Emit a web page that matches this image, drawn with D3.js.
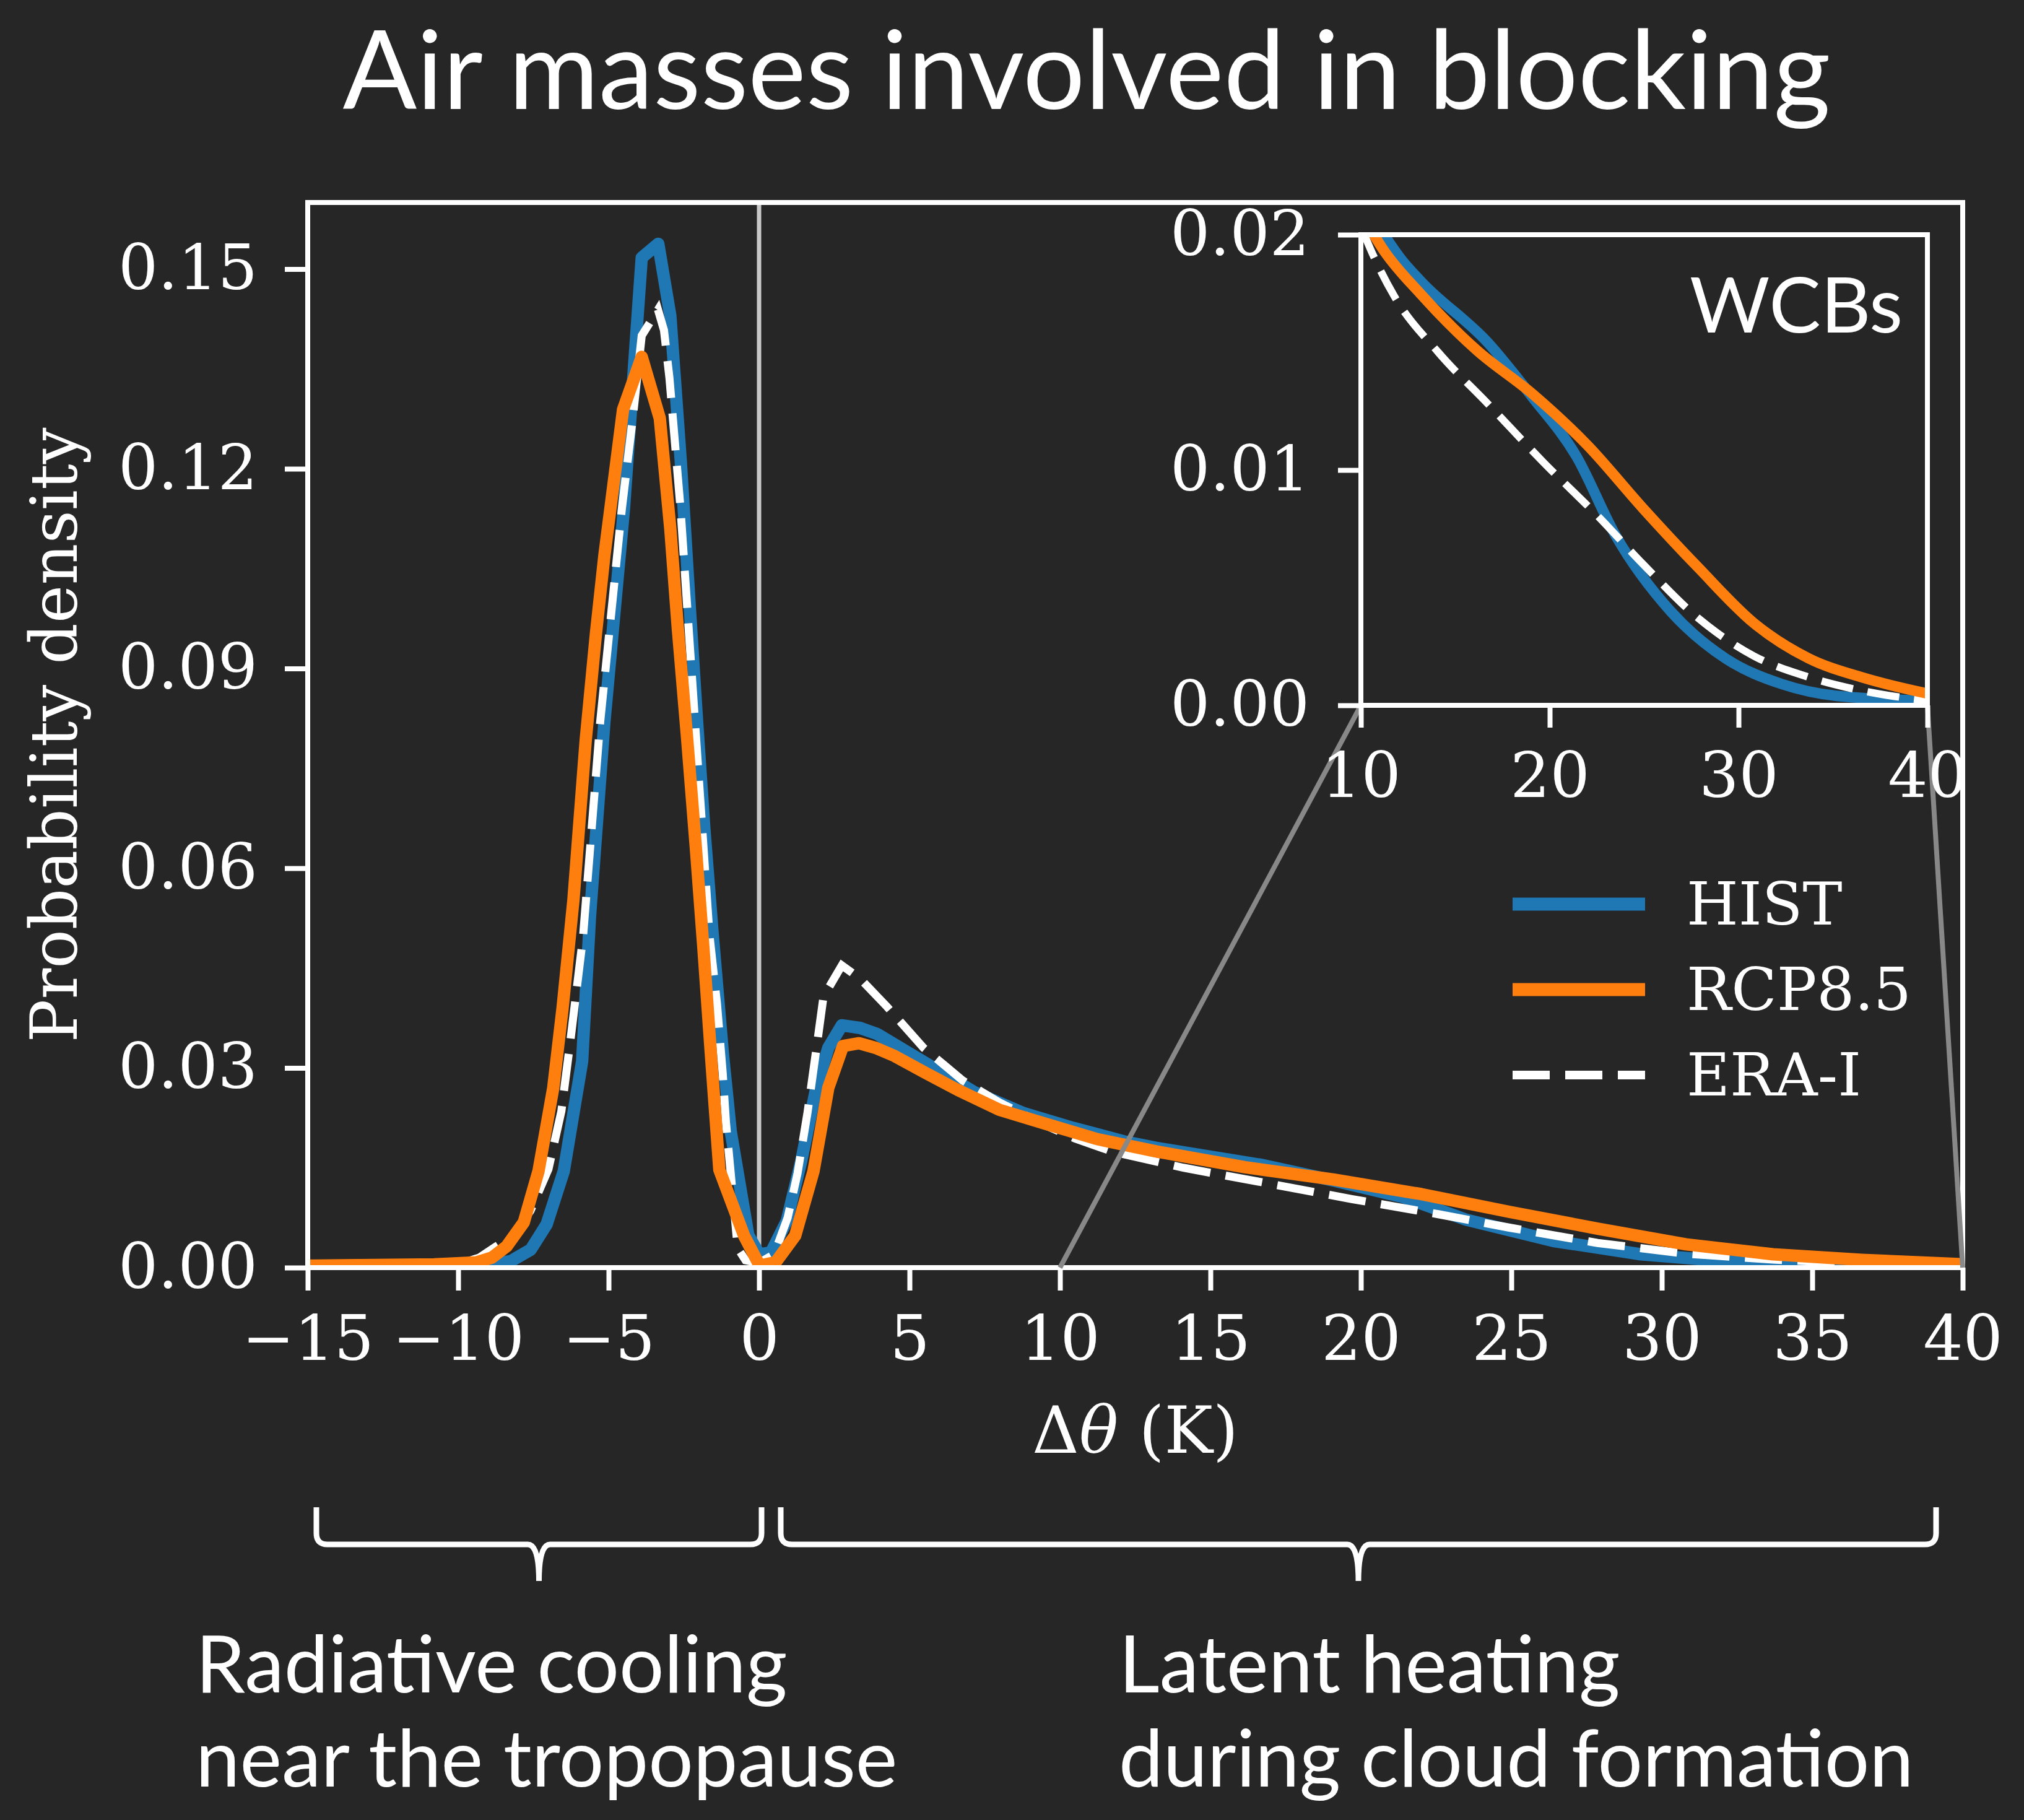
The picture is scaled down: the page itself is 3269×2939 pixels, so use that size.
<!DOCTYPE html>
<html>
<head>
<meta charset="utf-8">
<script src="https://cdn.jsdelivr.net/npm/d3@7"></script>
<style>
  body { margin: 0; background: #262626; }
  .tick text { font-family: "DejaVu Serif", serif; fill: #fff; }
  .tick line { stroke: #fff; }
</style>
</head>
<body>
<div id="chart"></div>
<script>
// values (theta in K, density)
var histX = [-15, -10, -9, -8.24, -7.59, -7.06, -6.49, -5.88, -5.62, -5.14, -4.49, -3.9, -3.35, -2.95, -2.6, -2.3, -2.06, -1.82, -1.54, -1.2, -0.94, -0.36, 0, 0.4, 0.92, 1.4, 1.9, 2.3, 2.75, 3.36, 3.92, 5.55, 7.18, 8.8, 10.43, 12.19, 13.2, 16.74, 19.08, 21.4, 23.5, 26.4, 29.3, 32.3, 35.2, 40];
var histY = [0.0002, 0.0002, 0.0004, 0.001, 0.0027, 0.0065, 0.0145, 0.031, 0.0527, 0.082, 0.114, 0.1517, 0.1538, 0.143, 0.121, 0.099, 0.082, 0.066, 0.050, 0.032, 0.0204, 0.0049, 0.002, 0.0023, 0.007, 0.016, 0.027, 0.033, 0.0364, 0.036, 0.0351, 0.0307, 0.0263, 0.0232, 0.0210, 0.0189, 0.0180, 0.0154, 0.0131, 0.0106, 0.0072, 0.0040, 0.0020, 0.0009, 0.0004, 0.0002];

var rcpX = [-15, -10.8, -9.38, -8.88, -8.39, -7.82, -7.33, -6.84, -6.53, -6.17, -5.76, -5.42, -5.14, -4.52, -3.9, -3.3, -2.95, -2.7, -2.4, -2.1, -1.85, -1.6, -1.32, -0.49, 0.02, 0.55, 1.2, 1.81, 2.3, 2.79, 3.32, 3.88, 4.5, 5.55, 6.6, 7.99, 9.6, 11.24, 13.2, 16.15, 19.08, 22.0, 24.94, 27.87, 30.8, 33.7, 36.66, 40];
var rcpY = [0.0003, 0.0005, 0.0008, 0.0015, 0.0032, 0.0068, 0.0145, 0.027, 0.039, 0.0552, 0.0793, 0.0953, 0.107, 0.1289, 0.1368, 0.1276, 0.111, 0.096, 0.080, 0.063, 0.048, 0.032, 0.0147, 0.0047, 0.0003, 0.0008, 0.0048, 0.0145, 0.027, 0.0333, 0.0337, 0.033, 0.0318, 0.0292, 0.0267, 0.0237, 0.0215, 0.0193, 0.01745, 0.01508, 0.01324, 0.01105, 0.00837, 0.00585, 0.0035, 0.0020, 0.00116, 0.0005];

var eraX = [-15, -10, -9.3, -8.8, -8.2, -7.6, -7.0, -6.57, -6.27, -5.85, -5.28, -4.56, -4.2, -3.9, -3.36, -3.16, -2.98, -2.61, -2.37, -2.13, -1.89, -1.65, -1.4, -1.21, -1.1, -0.71, -0.45, 0, 0.5, 0.95, 1.28, 1.61, 1.93, 2.14, 2.75, 3.36, 4.25, 5.47, 6.77, 7.99, 9.6, 10.5, 11.76, 14.1, 16.74, 19.7, 22.6, 24.94, 27.87, 30.8, 33.7, 36.66, 40];
var eraY = [0.0002, 0.0005, 0.0015, 0.003, 0.0048, 0.0085, 0.0148, 0.0235, 0.0341, 0.0497, 0.082, 0.114, 0.1275, 0.140, 0.1439, 0.1408, 0.1337, 0.114, 0.098, 0.082, 0.066, 0.050, 0.0397, 0.0293, 0.0218, 0.0029, 0.0011, 0.0007, 0.002, 0.0075, 0.0142, 0.0233, 0.0337, 0.0407, 0.0454, 0.0434, 0.0392, 0.033, 0.0281, 0.0248, 0.0212, 0.0194, 0.0174, 0.0150, 0.0128, 0.0103, 0.0080, 0.0060, 0.0037, 0.0021, 0.0012, 0.0006, 0.0002];

var xTicks = [-15, -10, -5, 0, 5, 10, 15, 20, 25, 30, 35, 40];
var xTickLabels = ["\u221215", "\u221210", "\u22125", "0", "5", "10", "15", "20", "25", "30", "35", "40"];
var yTicks = [0, 0.03, 0.06, 0.09, 0.12, 0.15];
var yTickLabels = ["0.00", "0.03", "0.06", "0.09", "0.12", "0.15"];
var insetXTicks = [10, 20, 30, 40];
var insetYTicks = [0, 0.01, 0.02];
var insetYTickLabels = ["0.00", "0.01", "0.02"];

var seriesNames = ["HIST", "RCP8.5", "ERA-I"];

var W = 3269, H = 2939;
var bg = "#262626";
var blue = "#1f77b4", orange = "#ff7f0e";
var serif = "DejaVu Serif", sans = "Lato";

var svg = d3.select("#chart")
            .append("svg")
            .attr("width", W)
            .attr("height", H);

svg.append("rect")
   .attr("width", W)
   .attr("height", H)
   .attr("fill", bg);

// main axes box
var box = {left: 497, right: 3170, top: 327, bottom: 2047};

var x = d3.scaleLinear()
          .domain([-15, 40])
          .range([box.left, box.right]);
var y = d3.scaleLinear()
          .domain([0, 0.16])
          .range([box.bottom, box.top]);

var defs = svg.append("defs");
defs.append("clipPath").attr("id", "clipMain")
    .append("rect")
    .attr("x", box.left).attr("y", box.top)
    .attr("width", box.right - box.left).attr("height", box.bottom - box.top);

var main = svg.append("g");
var plot = main.append("g").attr("clip-path", "url(#clipMain)");

// vertical line at zero
plot.append("line")
    .attr("x1", x(0)).attr("x2", x(0))
    .attr("y1", box.top).attr("y2", box.bottom)
    .attr("stroke", "#c8c8c8")
    .attr("stroke-width", 7);

function drawCurves(g, xs, ys, lw, dlw, dash, curve) {
  var line = d3.line()
               .curve(curve)
               .x(function(d) { return xs(d[0]); })
               .y(function(d) { return ys(d[1]); });
  g.append("path")
   .datum(d3.zip(histX, histY))
   .attr("d", line)
   .attr("fill", "none")
   .attr("stroke", blue)
   .attr("stroke-width", lw)
   .attr("stroke-linejoin", "round");
  g.append("path")
   .datum(d3.zip(eraX, eraY))
   .attr("d", line)
   .attr("fill", "none")
   .attr("stroke", "#fff")
   .attr("stroke-width", dlw)
   .attr("stroke-dasharray", dash);
  g.append("path")
   .datum(d3.zip(rcpX, rcpY))
   .attr("d", line)
   .attr("fill", "none")
   .attr("stroke", orange)
   .attr("stroke-width", lw)
   .attr("stroke-linejoin", "round");
}

drawCurves(plot, x, y, 20, 13, "60,25", d3.curveLinear);

// spines
main.append("rect")
    .attr("x", box.left).attr("y", box.top)
    .attr("width", box.right - box.left).attr("height", box.bottom - box.top)
    .attr("fill", "none")
    .attr("stroke", "#fff")
    .attr("stroke-width", 8);

var xAxis = d3.axisBottom(x)
              .tickValues(xTicks)
              .tickFormat(function(d, i) { return xTickLabels[i]; })
              .tickSize(37)
              .tickPadding(40);
var yAxis = d3.axisLeft(y)
              .tickValues(yTicks)
              .tickFormat(function(d, i) { return yTickLabels[i]; })
              .tickSize(37)
              .tickPadding(44);

main.append("g")
    .attr("transform", "translate(0," + box.bottom + ")")
    .call(xAxis)
    .call(function(g) { g.select(".domain").remove(); });
main.append("g")
    .attr("transform", "translate(" + box.left + ",0)")
    .call(yAxis)
    .call(function(g) { g.select(".domain").remove(); });

main.selectAll(".tick line").attr("stroke-width", 8);
main.selectAll(".tick text").style("font-size", "101px");

main.append("text")
    .attr("transform", "translate(88," + (box.top + box.bottom) / 2 + ") rotate(-90)")
    .attr("text-anchor", "middle")
    .attr("dominant-baseline", "central")
    .style("font-family", serif)
    .style("font-size", "104px")
    .attr("fill", "#fff")
    .text("Probability density");

var xlab = main.append("text")
               .attr("x", (box.left + box.right) / 2)
               .attr("y", 2346)
               .attr("text-anchor", "middle")
               .style("font-family", serif)
               .style("font-size", "105px")
               .attr("fill", "#fff");
xlab.append("tspan").text("\u0394");
xlab.append("tspan").style("font-style", "italic").text("\u03b8");
xlab.append("tspan").text(" (K)");

// inset
var ibox = {left: 2198, right: 3113, top: 379, bottom: 1139};
var xi = d3.scaleLinear()
           .domain([10, 40])
           .range([ibox.left, ibox.right]);
var yi = d3.scaleLinear()
           .domain([0, 0.02])
           .range([ibox.bottom, ibox.top]);

// connector lines from the zoomed region to the inset corners
main.append("line")
    .attr("x1", x(10)).attr("y1", y(0))
    .attr("x2", ibox.left).attr("y2", ibox.bottom)
    .attr("stroke", "#888").attr("stroke-width", 8);
main.append("line")
    .attr("x1", x(40)).attr("y1", y(0))
    .attr("x2", ibox.right).attr("y2", ibox.bottom)
    .attr("stroke", "#888").attr("stroke-width", 8);

// legend
var legY = [1460, 1598, 1736];
var legend = main.append("g");
var legStyles = [{c: blue, w: 21, dash: null}, {c: orange, w: 21, dash: null}, {c: "#fff", w: 14, dash: "60,25"}];
seriesNames.forEach(function(name, i) {
  legend.append("line")
        .attr("x1", 2443).attr("x2", 2657)
        .attr("y1", legY[i]).attr("y2", legY[i])
        .attr("stroke", legStyles[i].c)
        .attr("stroke-width", legStyles[i].w)
        .attr("stroke-dasharray", legStyles[i].dash);
  legend.append("text")
        .attr("x", 2724).attr("y", legY[i])
        .attr("dominant-baseline", "central")
        .style("font-family", serif)
        .style("font-size", "96px")
        .attr("fill", "#fff")
        .text(name);
});

var inset = svg.append("g");
defs.append("clipPath").attr("id", "clipInset")
    .append("rect")
    .attr("x", ibox.left).attr("y", ibox.top)
    .attr("width", ibox.right - ibox.left).attr("height", ibox.bottom - ibox.top);

inset.append("rect")
     .attr("x", ibox.left).attr("y", ibox.top)
     .attr("width", ibox.right - ibox.left).attr("height", ibox.bottom - ibox.top)
     .attr("fill", bg);

var iplot = inset.append("g").attr("clip-path", "url(#clipInset)");
drawCurves(iplot, xi, yi, 17, 12, "52,24", d3.curveMonotoneX);

inset.append("rect")
     .attr("x", ibox.left).attr("y", ibox.top)
     .attr("width", ibox.right - ibox.left).attr("height", ibox.bottom - ibox.top)
     .attr("fill", "none")
     .attr("stroke", "#fff")
     .attr("stroke-width", 8);

inset.append("g")
     .attr("transform", "translate(0," + ibox.bottom + ")")
     .call(d3.axisBottom(xi).tickValues(insetXTicks).tickSize(36).tickPadding(40))
     .call(function(g) { g.select(".domain").remove(); });
inset.append("g")
     .attr("transform", "translate(" + ibox.left + ",0)")
     .call(d3.axisLeft(yi).tickValues(insetYTicks)
             .tickFormat(function(d, i) { return insetYTickLabels[i]; })
             .tickSize(37).tickPadding(46))
     .call(function(g) { g.select(".domain").remove(); });

inset.selectAll(".tick line").attr("stroke-width", 8);
inset.selectAll(".tick text").style("font-size", "101px");

inset.append("text")
     .attr("x", 3073).attr("y", 537)
     .attr("text-anchor", "end")
     .style("font-family", sans)
     .style("font-size", "125px")
     .attr("fill", "#fff")
     .text("WCBs");

// title
svg.append("text")
   .attr("x", 1755).attr("y", 176)
   .attr("text-anchor", "middle")
   .style("font-family", sans)
   .style("font-size", "177px")
   .attr("fill", "#fff")
   .text("Air masses involved in blocking");

// braces below the axis
function brace(x0, x1, yt, ym, yb) {
  var xc = (x0 + x1) / 2, r = 18;
  return "M" + x0 + "," + yt +
         "L" + x0 + "," + (ym - r) +
         "Q" + x0 + "," + ym + " " + (x0 + r) + "," + ym +
         "L" + (xc - r) + "," + ym +
         "Q" + xc + "," + ym + " " + xc + "," + yb +
         "Q" + xc + "," + ym + " " + (xc + r) + "," + ym +
         "L" + (x1 - r) + "," + ym +
         "Q" + x1 + "," + ym + " " + x1 + "," + (ym - r) +
         "L" + x1 + "," + yt;
}
svg.append("path")
   .attr("d", brace(511, 1230, 2434, 2494, 2553))
   .attr("fill", "none").attr("stroke", "#fff").attr("stroke-width", 9);
svg.append("path")
   .attr("d", brace(1261, 3127, 2434, 2494, 2553))
   .attr("fill", "none").attr("stroke", "#fff").attr("stroke-width", 9);

var notes = [
  {x: 316, lines: ["Radiative cooling", "near the tropopause"]},
  {x: 1807, lines: ["Latent heating", "during cloud formation"]}
];
notes.forEach(function(n) {
  n.lines.forEach(function(t, i) {
    svg.append("text")
       .attr("x", n.x).attr("y", 2733 + i * 152)
       .style("font-family", sans)
       .style("font-size", "128px")
       .attr("fill", "#fff")
       .text(t);
  });
});
</script>
</body>
</html>
